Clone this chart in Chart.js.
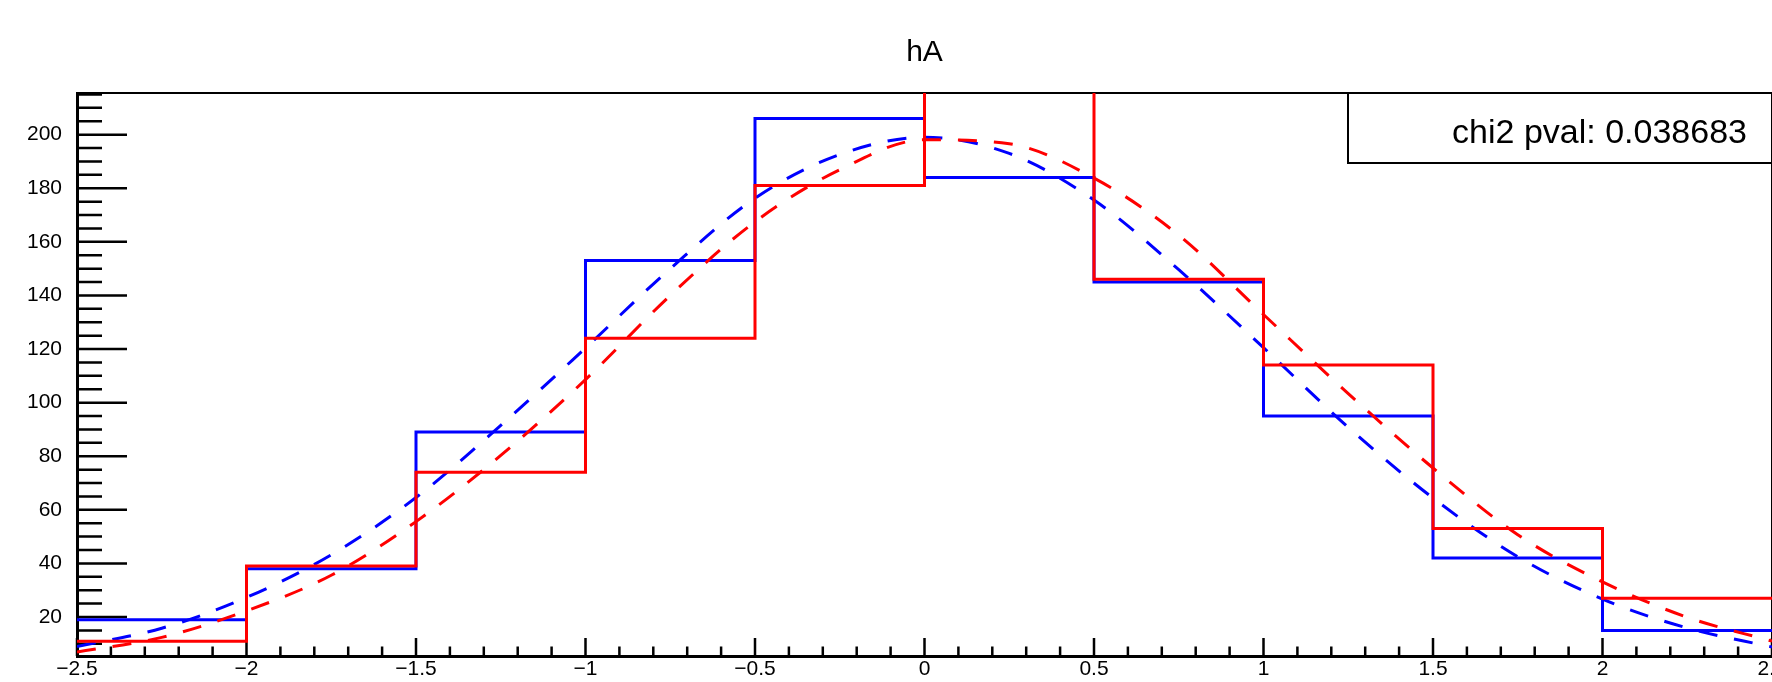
<!DOCTYPE html>
<html>
<head>
<meta charset="utf-8">
<script src="https://cdn.jsdelivr.net/npm/chart.js@4/dist/chart.umd.min.js"></script>
<style>
  body { margin: 0; background: #fff; }
  #wrap { width: 1772px; height: 682px; position: relative; }
</style>
</head>
<body>
<div id="wrap"><canvas id="c"></canvas></div>
<script>
// histogram bins (hA), blue and red
var binEdges = [-2.5, -2, -1.5, -1, -0.5, 0, 0.5, 1, 1.5, 2, 2.5];
var blueCounts = [19, 38, 89, 153, 206, 184, 145, 95, 42, 15];
var redCounts = [11, 39, 74, 124, 181, 229, 146, 114, 53, 27];

// dashed fit curves
var fitX = [-2.5, -2.25, -2, -1.75, -1.5, -1.25, -1, -0.75, -0.5, -0.25, 0,
            0.25, 0.5, 0.75, 1, 1.25, 1.5, 1.75, 2, 2.25, 2.5];
var blueFit = [9.0, 15.8, 27.3, 43.2, 64.6, 91.5, 120.4, 150, 176.3, 192.6, 199,
               193, 175.6, 149.6, 120.5, 90.8, 64.4, 42.5, 26.7, 15.9, 8.8];
var redFit = [6.9, 12.4, 22.3, 35.6, 55.6, 80.3, 108.6, 140, 167.5, 186.9, 198.1,
              196.6, 183.8, 162.5, 132.9, 103.4, 75.6, 50.7, 33.1, 19.9, 11.0];

var xTickValues = [-2.5, -2, -1.5, -1, -0.5, 0, 0.5, 1, 1.5, 2, 2.5];
var xTickLabels = ['\u22122.5', '\u22122', '\u22121.5', '\u22121', '\u22120.5', '0', '0.5', '1', '1.5', '2', '2.5'];
var yTickValues = [20, 40, 60, 80, 100, 120, 140, 160, 180, 200];

var titleText = 'hA';
var statText = 'chi2 pval: 0.038683';

var FONT = '"Liberation Sans", Arial, Helvetica, sans-serif';

function histPoints(counts) {
  return binEdges.map(function (x, i) {
    return { x: x, y: counts[Math.min(i, counts.length - 1)] };
  });
}
function fitPoints(vals) {
  return fitX.map(function (x, i) { return { x: x, y: vals[i] }; });
}

// ROOT style inner ticks + frame + stats box
var rootFrame = {
  id: 'rootFrame',
  beforeDatasetsDraw: function (chart) {
    var ctx = chart.ctx, a = chart.chartArea;
    var xs = chart.scales.x, ys = chart.scales.y;
    ctx.save();
    ctx.strokeStyle = '#000';
    ctx.lineWidth = 2.5;
    ctx.beginPath();
    for (var i = -25; i <= 25; i++) {
      var px = xs.getPixelForValue(i / 10);
      var len = (i % 5 === 0) ? 18 : 9.5;
      ctx.moveTo(px, a.bottom);
      ctx.lineTo(px, a.bottom - len);
    }
    for (var v = 10; v <= 215; v += 5) {
      var py = ys.getPixelForValue(v);
      var l = (v % 20 === 0) ? 50 : 25;
      ctx.moveTo(a.left, py);
      ctx.lineTo(a.left + l, py);
    }
    ctx.stroke();
    ctx.lineWidth = 2;
    ctx.beginPath();
    ctx.moveTo(a.left, a.top);
    ctx.lineTo(a.right, a.top);
    ctx.lineTo(a.right, a.bottom);
    ctx.stroke();
    ctx.restore();
  },
  afterDraw: function (chart) {
    var ctx = chart.ctx, a = chart.chartArea;
    var w = 424, h = 70;
    ctx.save();
    ctx.fillStyle = '#fff';
    ctx.fillRect(a.right - w, a.top, w, h);
    ctx.strokeStyle = '#000';
    ctx.lineWidth = 2;
    ctx.strokeRect(a.right - w, a.top, w, h);
    ctx.fillStyle = '#000';
    ctx.font = '34px ' + FONT;
    ctx.textAlign = 'right';
    ctx.textBaseline = 'middle';
    ctx.fillText(statText, a.right - 25, a.top + 41);
    ctx.restore();
  }
};

var ctx = document.getElementById('c').getContext('2d');
var chart = new Chart(ctx, {
  type: 'line',
  data: {
    datasets: [
      {
        label: 'red fit',
        data: fitPoints(redFit),
        borderColor: '#ff0000',
        borderWidth: 3,
        borderDash: [19, 17],
        pointRadius: 0,
        cubicInterpolationMode: 'monotone',
        fill: false
      },
      {
        label: 'red',
        data: histPoints(redCounts),
        borderColor: '#ff0000',
        borderWidth: 3,
        stepped: 'before',
        pointRadius: 0,
        fill: false
      },
      {
        label: 'blue fit',
        data: fitPoints(blueFit),
        borderColor: '#0000ff',
        borderWidth: 3,
        borderDash: [19, 17],
        pointRadius: 0,
        cubicInterpolationMode: 'monotone',
        fill: false
      },
      {
        label: 'blue',
        data: histPoints(blueCounts),
        borderColor: '#0000ff',
        borderWidth: 3,
        stepped: 'before',
        pointRadius: 0,
        fill: false
      }
    ]
  },
  options: {
    responsive: true,
    maintainAspectRatio: false,
    animation: false,
    layout: { padding: 0 },
    plugins: {
      legend: { display: false },
      tooltip: { enabled: false },
      title: {
        display: true,
        text: titleText,
        fullSize: false,
        color: '#000',
        font: { family: FONT, size: 30, weight: 'normal', lineHeight: 1.2 },
        padding: { top: 35, bottom: 22 }
      }
    },
    scales: {
      x: {
        type: 'linear',
        min: -2.5,
        max: 2.5,
        grid: { display: false, drawTicks: false },
        border: { display: true, color: '#000', width: 3 },
        afterBuildTicks: function (s) {
          s.ticks = xTickValues.map(function (v) { return { value: v }; });
        },
        afterFit: function (s) {
          s.height = 26;
          s.paddingLeft = 0;
          s.paddingRight = 0;
        },
        ticks: {
          autoSkip: false,
          maxRotation: 0,
          padding: 1,
          color: '#000',
          font: { family: FONT, size: 21 },
          callback: function (v, i) { return xTickLabels[i]; }
        }
      },
      y: {
        type: 'linear',
        min: 5.45,
        max: 215.55,
        grid: { display: false, drawTicks: false },
        border: { display: true, color: '#000', width: 3 },
        afterBuildTicks: function (s) {
          s.ticks = yTickValues.map(function (v) { return { value: v }; });
        },
        afterFit: function (s) {
          s.width = 77;
          s.paddingTop = 0;
          s.paddingBottom = 0;
        },
        ticks: {
          autoSkip: false,
          padding: 15,
          color: '#000',
          font: { family: FONT, size: 21 },
          callback: function (v) { return String(v); }
        }
      }
    }
  },
  plugins: [rootFrame]
});
</script>
</body>
</html>
